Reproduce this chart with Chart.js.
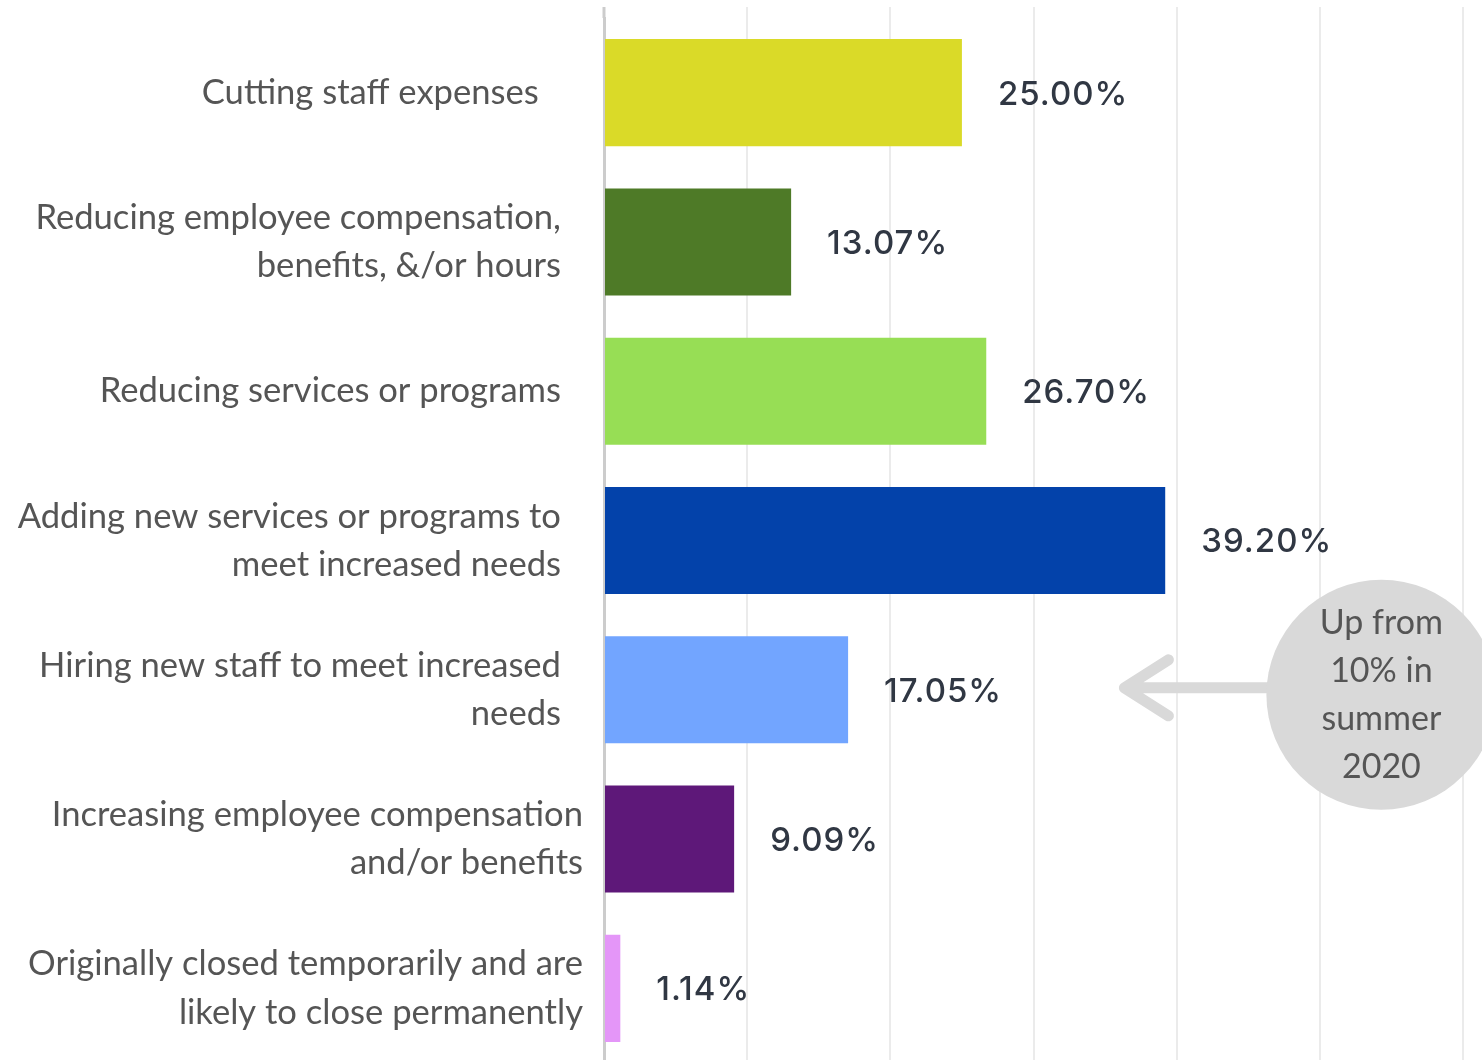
<!DOCTYPE html>
<html>
<head>
<meta charset="utf-8">
<script src="https://cdn.jsdelivr.net/npm/chart.js@4"></script>
<style>
    html, body { margin: 0; padding: 0; background: #fff; overflow: hidden; }
    .wrap { width: 1482px; height: 1072px; position: relative; }
</style>
</head>
<body>
<div class="wrap"><canvas id="chart"></canvas></div>
<script>
const NB = '\u00a0';
const GAP = NB + NB + '\u2009'; // pushes most labels a bit off the axis

// category labels (one array per tick, one string per line)
const categories = [
    ['Cutting staff expenses' + NB.repeat(5)],
    ['Reducing employee compensation,' + GAP, 'benefits, &/or hours' + GAP],
    ['Reducing services or programs' + GAP],
    ['Adding new services or programs to' + GAP, 'meet increased needs' + GAP],
    ['Hiring new staff to meet increased' + GAP, 'needs' + GAP],
    ['Increasing employee compensation', 'and/or benefits'],
    ['Originally closed temporarily and are', 'likely to close permanently'],
];
const values = [25.00, 13.07, 26.70, 39.20, 17.05, 9.09, 1.14];
const barColors = ['#dada28', '#4e7a27', '#97de55', '#0342aa', '#72a5ff', '#5e1879', '#e496f8'];
const noteLines = ['Up from', '10% in', 'summer', '2020'];
const noteIndex = 4; // bar the note points at

const labelFont = '"Lato", "Noto Sans", sans-serif';

// grid lines reach a little above the bars, plus value labels and the note
const extras = {
    id: 'extras',
    beforeDatasetsDraw(chart) {
        const { ctx, chartArea, scales } = chart;
        ctx.save();
        ctx.strokeStyle = '#ebebeb';
        ctx.lineWidth = 2;
        scales.x.ticks.forEach((t) => {
            const px = Math.round(scales.x.getPixelForValue(t.value));
            if (px <= chartArea.left + 2) return;
            ctx.beginPath();
            ctx.moveTo(px, 7);
            ctx.lineTo(px, chartArea.top);
            ctx.stroke();
        });
        ctx.strokeStyle = '#cccccc';
        ctx.lineWidth = 3;
        ctx.beginPath();
        ctx.moveTo(chartArea.left, 7);
        ctx.lineTo(chartArea.left, chartArea.top);
        ctx.stroke();
        ctx.restore();
    },
    afterDatasetsDraw(chart) {
        const { ctx } = chart;
        const meta = chart.getDatasetMeta(0);
        ctx.save();
        ctx.fillStyle = '#303743';
        ctx.font = '500 33px "Inter", "Liberation Sans", sans-serif';
        ctx.letterSpacing = '1px';
        ctx.textAlign = 'left';
        ctx.textBaseline = 'middle';
        meta.data.forEach((bar, i) => {
            ctx.fillText(values[i].toFixed(2) + '%', bar.x + 36, bar.y + 2);
        });
        ctx.letterSpacing = '0px';

        // callout
        const xs = chart.scales.x, ys = chart.scales.y;
        const cx = xs.getPixelForValue(54.3);
        const cy = ys.getPixelForValue(noteIndex) + 5;
        const r = 115;
        const tipX = cx - 257, tipY = cy - 7;
        ctx.strokeStyle = '#d9d9d9';
        ctx.lineWidth = 11;
        ctx.lineCap = 'round';
        ctx.lineJoin = 'round';
        ctx.beginPath();
        ctx.moveTo(cx - 60, tipY);
        ctx.lineTo(tipX, tipY);
        ctx.moveTo(tipX + 44, tipY - 28);
        ctx.lineTo(tipX, tipY);
        ctx.lineTo(tipX + 44, tipY + 28);
        ctx.stroke();
        ctx.fillStyle = '#d9d9d9';
        ctx.beginPath();
        ctx.arc(cx, cy, r, 0, Math.PI * 2);
        ctx.fill();
        ctx.fillStyle = '#555555';
        ctx.font = '34px ' + labelFont;
        ctx.textAlign = 'center';
        noteLines.forEach((line, i) => {
            ctx.fillText(line, cx, cy - 72 + i * 48);
        });
        ctx.restore();
    },
};

new Chart(document.getElementById('chart'), {
    type: 'bar',
    data: {
        labels: categories,
        datasets: [{
            data: values,
            backgroundColor: barColors,
            barPercentage: 0.717,
            categoryPercentage: 1,
        }],
    },
    options: {
        indexAxis: 'y',
        responsive: true,
        maintainAspectRatio: false,
        animation: false,
        layout: { padding: { top: 18, right: 19, bottom: 9, left: 0 } },
        plugins: {
            legend: { display: false },
            tooltip: { enabled: false },
        },
        scales: {
            x: {
                min: 0,
                max: 60,
                ticks: { display: false, stepSize: 10 },
                grid: { color: '#ebebeb', lineWidth: 2, drawTicks: false },
                border: { display: false },
            },
            y: {
                afterFit(scale) {
                    scale.width = 604;
                    scale.paddingTop = 0;
                    scale.paddingBottom = 0;
                },
                ticks: {
                    color: '#555555',
                    padding: 13,
                    font: { family: labelFont, size: 34.6, lineHeight: 1.39 },
                },
                grid: { display: false },
                border: { color: '#cccccc', width: 3 },
            },
        },
    },
    plugins: [extras],
});
</script>
</body>
</html>
